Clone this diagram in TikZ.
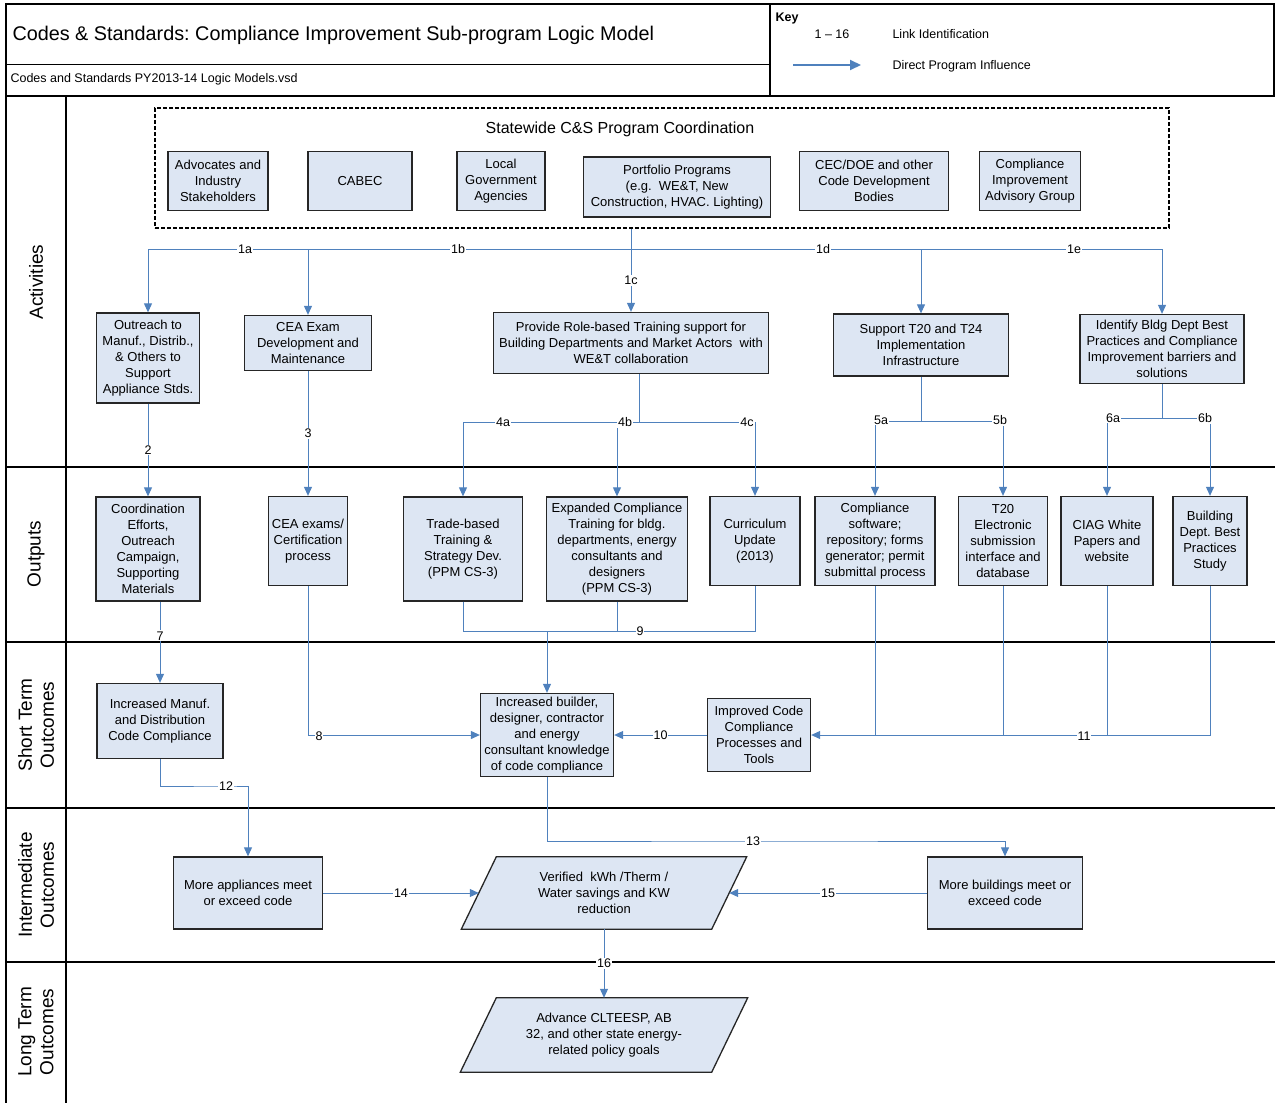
\documentclass[tikz,border=0pt]{standalone}
\usepackage{fontspec}
\setmainfont{Liberation Sans}
\usetikzlibrary{arrows.meta,backgrounds}
\definecolor{boxfill}{RGB}{221,230,243}
\definecolor{conn}{RGB}{79,129,189}
\frenchspacing
\begin{document}
\begin{tikzpicture}[x=1pt,y=-1pt,
  bx/.style 2 args={draw=black!85, line width=1.3pt, fill=boxfill, align=center, inner sep=1.5pt,
     font=\fontsize{13}{16}\selectfont, minimum width=#1pt, minimum height=#2pt},
  para/.style 2 args={draw=none, align=center, inner sep=1.5pt,
     font=\fontsize{13}{16}\selectfont, minimum width=#1pt, minimum height=#2pt},
  pshape/.style={draw=black!85, line width=1.3pt, fill=boxfill},
  ln/.style={draw=conn, line width=1pt},
  ar/.style={ln, -{Triangle[length=9pt,width=8pt]}},
  lab/.style={fill=white, inner sep=1pt, font=\fontsize{12.5}{14}\selectfont},
  rowlab/.style={rotate=90, align=center, font=\fontsize{19}{22}\selectfont},
  sep/.style={draw=black, line width=1.5pt},
  dashbox/.style={draw=black, line width=1.8pt, dash pattern=on 4pt off 2pt, minimum width=1014pt, minimum height=120pt}
]
\useasboundingbox (0,0) rectangle (1275,1103);

% ---------- frame and header ----------
\draw[sep] (6,1103) -- (6,4) -- (770,4);
\draw[line width=1pt] (6,64) -- (770,64);
\draw[sep] (6,96) -- (1275,96);
\draw[sep] (770,4) rectangle (1274,96);
\draw[sep] (66,96) -- (66,1103);
\draw[sep] (6,467) -- (1275,467);
\draw[sep] (6,642) -- (1275,642);
\draw[sep] (6,808) -- (1275,808);
\draw[sep] (6,962) -- (1275,962);

\node[anchor=west, font=\fontsize{19.8}{22}\selectfont] (title) at (9,35) {Codes \& Standards: Compliance Improvement Sub-program Logic Model};
\node[anchor=west, font=\fontsize{12.5}{14}\selectfont] (file) at (7,79) {Codes and Standards PY2013-14 Logic Models.vsd};

\node[anchor=west, font=\bfseries\fontsize{12.5}{14}\selectfont] (key) at (772,18) {Key};
\node[font=\fontsize{12.5}{14}\selectfont] (k116) at (832,34) {1 -- 16};
\node[anchor=west, font=\fontsize{12.5}{14}\selectfont] (klink) at (889,34) {Link Identification};
\coordinate (ka) at (793,65);
\coordinate (kb) at (861,65);
\draw[draw=conn, line width=2pt, -{Triangle[length=11pt,width=10pt]}] (ka) -- (kb);
\node[anchor=west, font=\fontsize{12.5}{14}\selectfont] (kdir) at (889,66) {Direct Program Influence};

% ---------- row labels ----------
\node[rowlab] (rl1) at (36,282) {Activities};
\node[rowlab] (rl2) at (36,554) {Outputs};
\node[rowlab] (rl3) at (36,725) {Short Term\\Outcomes};
\node[rowlab] (rl4) at (36,885) {Intermediate\\Outcomes};
\node[rowlab] (rl5) at (36,1032) {Long Term\\Outcomes};

% ---------- nodes ----------
\node[dashbox] (coord) at (662,168) {};
\node[font=\fontsize{16}{18}\selectfont] (coordt) at (620,129) {Statewide C\&S Program Coordination};
\node[bx={100}{59}] (p1) at (218,181) {Advocates and\\Industry\\Stakeholders};
\node[bx={104}{59}] (p2) at (360,181) {CABEC};
\node[bx={88}{59}] (p3) at (501,181) {Local\\Government\\Agencies};
\node[bx={187}{60}] (p4) at (677,187) {Portfolio Programs\\(e.g.\ \ WE\&T, New\\Construction, HVAC. Lighting)};
\node[bx={149}{59}] (p5) at (874,181) {CEC/DOE and other\\Code Development\\Bodies};
\node[bx={101}{59}] (p6) at (1030,181) {Compliance\\Improvement\\Advisory Group};

\node[bx={103}{90}] (a1) at (148,358) {Outreach to\\Manuf., Distrib.,\\\& Others to\\Support\\Appliance Stds.};
\node[bx={127}{55}] (a2) at (308,343) {CEA Exam\\Development and\\Maintenance};
\node[bx={275}{61}] (a3) at (631,343) {Provide Role-based Training support for\\Building Departments and Market Actors\ \ with\\WE\&T collaboration};
\node[bx={175}{62}] (a4) at (921,345) {Support T20 and T24\\Implementation\\Infrastructure};
\node[bx={164}{69}] (a5) at (1162,349) {Identify Bldg Dept Best\\Practices and Compliance\\Improvement barriers and\\solutions};

\node[bx={104}{104}] (o1) at (148,549) {Coordination\\Efforts,\\Outreach\\Campaign,\\Supporting\\Materials};
\node[bx={79}{89}] (o2) at (308,541) {CEA exams/\\Certification\\process};
\node[bx={119}{104}] (o3) at (463,549) {Trade-based\\Training \&\\Strategy Dev.\\(PPM CS-3)};
\node[bx={141}{104}] (o4) at (617,549) {Expanded Compliance\\Training for bldg.\\departments, energy\\consultants and\\designers\\(PPM CS-3)};
\node[bx={90}{89}] (o5) at (755,541) {Curriculum\\Update\\(2013)};
\node[bx={120}{89}] (o6) at (875,541) {Compliance\\software;\\repository; forms\\generator; permit\\submittal process};
\node[bx={89}{89}] (o7) at (1003,541) {T20\\Electronic\\submission\\interface and\\database};
\node[bx={92}{89}] (o8) at (1107,541) {CIAG White\\Papers and\\website};
\node[bx={74}{89}] (o9) at (1210,541) {Building\\Dept. Best\\Practices\\Study};

\node[bx={126}{75}] (s1) at (160,721) {Increased Manuf.\\and Distribution\\Code Compliance};
\node[bx={133}{83}] (s2) at (547,735) {Increased builder,\\designer, contractor\\and energy\\consultant knowledge\\of code compliance};
\node[bx={103}{73}] (s3) at (759,735) {Improved Code\\Compliance\\Processes and\\Tools};

\node[bx={149}{72}] (i1) at (248,893) {More appliances meet\\or exceed code};
\node[para={250}{72}] (ver) at (604,893) {Verified\ \ kWh /Therm /\\Water savings and KW\\reduction};
\node[bx={155}{72}] (i3) at (1005,893) {More buildings meet or\\exceed code};
\node[para={251}{74}] (adv) at (604,1035) {Advance CLTEESP, AB\\32, and other state energy-\\related policy goals};

\begin{scope}[on background layer]
  \draw[pshape] ([xshift=17.5pt]ver.north west) -- ([xshift=17.5pt]ver.north east)
     -- ([xshift=-17.5pt]ver.south east) -- ([xshift=-17.5pt]ver.south west) -- cycle;
  \draw[pshape] ([xshift=18pt]adv.north west) -- ([xshift=18pt]adv.north east)
     -- ([xshift=-18pt]adv.south east) -- ([xshift=-18pt]adv.south west) -- cycle;
\end{scope}

% ---------- connectors ----------
\coordinate (j1) at (631,249);
\draw[ln] (coord.south -| j1) -- (j1);
\draw[ar] (j1) -| (a1.north);
\draw[ar] (j1) -| (a2.north);
\draw[ar] (j1) -- node[lab]{1c} (a3.north);
\draw[ar] (j1) -| (a4.north);
\draw[ar] (j1) -| (a5.north);
\node[lab] (l1a) at (245,249) {1a};
\node[lab] (l1b) at (458,249) {1b};
\node[lab] (l1d) at (823,249) {1d};
\node[lab] (l1e) at (1074,249) {1e};

\draw[ar] (a1.south) -- node[lab]{2} (o1.north);
\draw[ar] (a2.south) -- node[lab]{3} (o2.north);

\coordinate (j4) at (639,422);
\draw[ln] (j4 |- a3.south) -- (j4);
\draw[ar] (j4) -| (o3.north);
\draw[ar] (j4) -| (o4.north);
\draw[ar] (j4) -| (o5.north);
\node[lab] (l4a) at (503,422) {4a};
\node[lab] (l4b) at (625,422) {4b};
\node[lab] (l4c) at (747,422) {4c};

\coordinate (j5) at (921,421);
\draw[ln] (a4.south) -- (j5);
\draw[ar] (j5) -| (o6.north);
\draw[ar] (j5) -| (o7.north);
\node[lab] (l5a) at (881,420) {5a};
\node[lab] (l5b) at (1000,420) {5b};

\coordinate (j6) at (1162,418);
\draw[ln] (a5.south) -- (j6);
\draw[ar] (j6) -| (o8.north);
\draw[ar] (j6) -| (o9.north);
\node[lab] (l6a) at (1113,418) {6a};
\node[lab] (l6b) at (1205,418) {6b};

\draw[ar] (s1.north |- o1.south) -- node[lab, pos=0.42]{7} (s1.north);

\draw[ar] (o2.south) |- (s2.west);
\node[lab] (l8) at (319,736) {8};

\coordinate (j9) at (547,631);
\draw[ln] (o3.south) |- (j9);
\draw[ln] (o5.south) |- (j9);
\draw[ln] (o4.south) -- (o4.south |- j9);
\draw[ar] (j9) -- (s2.north);
\node[lab] (l9) at (640,631) {9};

\draw[ar] (s3.west) -- node[lab]{10} (s2.east);

\draw[ar] (o9.south) |- (s3.east);
\draw[ln] (o6.south) -- (o6.south |- s3.east);
\draw[ln] (o7.south) -- (o7.south |- s3.east);
\draw[ln] (o8.south) -- (o8.south |- s3.east);
\node[lab] (l11) at (1084,736) {11};

\coordinate (y12) at (226,786);
\draw[ar] (s1.south) |- (y12) -| (i1.north);
\node[lab] (l12) at (y12) {12};

\coordinate (y13) at (753,841);
\draw[ar] (s2.south) |- (y13) -| (i3.north);
\node[lab] (l13) at (y13) {13};

\draw[ar] (i1.east) -- node[lab]{14} (ver.west);
\draw[ar] (i3.west) -- node[lab]{15} (ver.east);
\draw[ar] (ver.south) -- node[lab]{16} (adv.north);
\end{tikzpicture}
\end{document}
